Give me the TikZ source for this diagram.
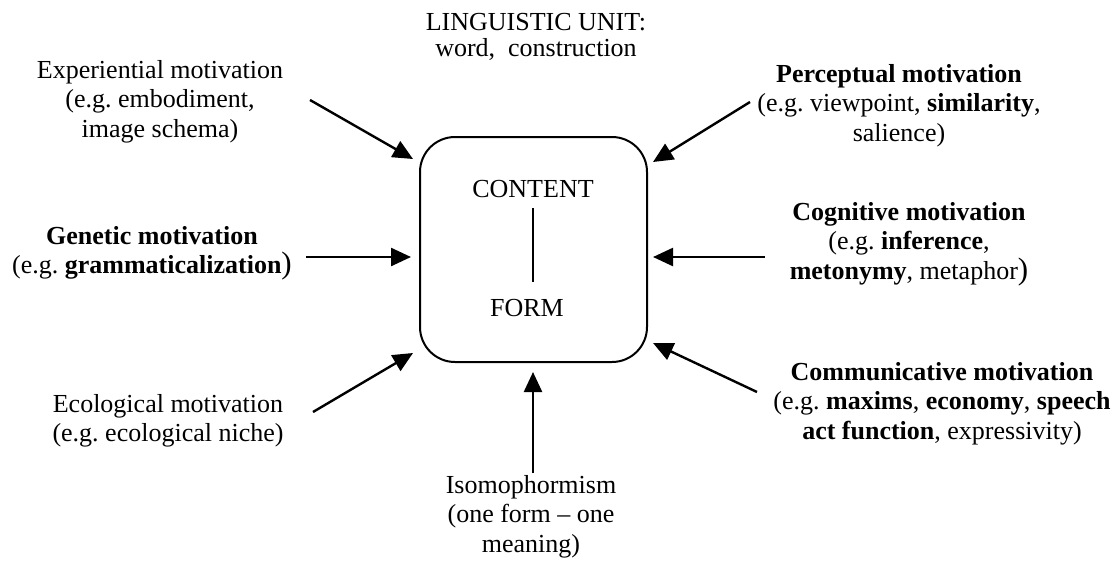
\documentclass[tikz,border=0pt]{standalone}
\usepackage{fontspec}
\setmainfont{Liberation Serif}
\usetikzlibrary{arrows.meta}
\newcommand{\bigparen}{{\fontsize{31}{29.5}\selectfont )}}
\frenchspacing
\begin{document}
\begin{tikzpicture}[x=1pt,y=-1pt,
  txt/.style={font=\fontsize{26}{29.5}\selectfont, align=center, anchor=base, inner sep=0pt},
  arr/.style={line width=2.4pt, -{Triangle[length=20pt,width=18pt]}},
  unitbox/.style={draw, line width=2pt, rounded corners=35pt, minimum width=227pt, minimum height=225pt, inner sep=0pt}
]
\useasboundingbox (0,0) rectangle (1116,560);

% central box
\node[unitbox] (box) at (533.5,249.5) {};
\node[txt] (content) at (533,197) {CONTENT};
\node[txt] (form) at (527,316) {FORM};
\coordinate (ltop) at (533,208);
\coordinate (lbot) at (533,282);
\draw[line width=1.5pt] (ltop) -- (lbot);

% title (anchor = baseline of last line)
\node[txt] (unit) at (536,56) {LINGUISTIC UNIT:\\[-4pt]word,\ \ construction};

% text blocks
\node[txt] (exp) at (160,137) {Experiential motivation\\(e.g. embodiment,\\image schema)};
\node[txt] (gen) at (152,273.5) {\textbf{Genetic motivation}\\(e.g. \textbf{grammaticalization}\bigparen};
\node[txt] (eco) at (168,441.5) {Ecological motivation\\(e.g. ecological niche)};
\node[txt] (iso) at (531,552) {Isomophormism\\(one form -- one\\meaning)};
\node[txt] (per) at (899,141) {\textbf{Perceptual motivation}\\(e.g. viewpoint, \textbf{similarity},\\salience)};
\node[txt] (cog) at (909,279) {\textbf{Cognitive motivation}\\(e.g. \textbf{inference},\\\textbf{metonymy}, metaphor\bigparen};
\node[txt] (com) at (942,439) {\textbf{Communicative motivation}\\(e.g. \textbf{maxims}, \textbf{economy}, \textbf{speech}\\\textbf{act function}, expressivity)};

% arrow end points
\coordinate (expS) at (310,100); \coordinate (expE) at (413,159);
\coordinate (genS) at (306,257); \coordinate (genE) at (411,257);
\coordinate (ecoS) at (313,412); \coordinate (ecoE) at (413,353);
\coordinate (isoS) at (533,473); \coordinate (isoE) at (533,372);
\coordinate (perS) at (750,102); \coordinate (perE) at (653,162);
\coordinate (cogS) at (765,257); \coordinate (cogE) at (653,257);
\coordinate (comS) at (757,392); \coordinate (comE) at (653,343);

\draw[arr] (expS) -- (expE);
\draw[arr] (genS) -- (genE);
\draw[arr] (ecoS) -- (ecoE);
\draw[arr] (isoS) -- (isoE);
\draw[arr] (perS) -- (perE);
\draw[arr] (cogS) -- (cogE);
\draw[arr] (comS) -- (comE);
\end{tikzpicture}
\end{document}
